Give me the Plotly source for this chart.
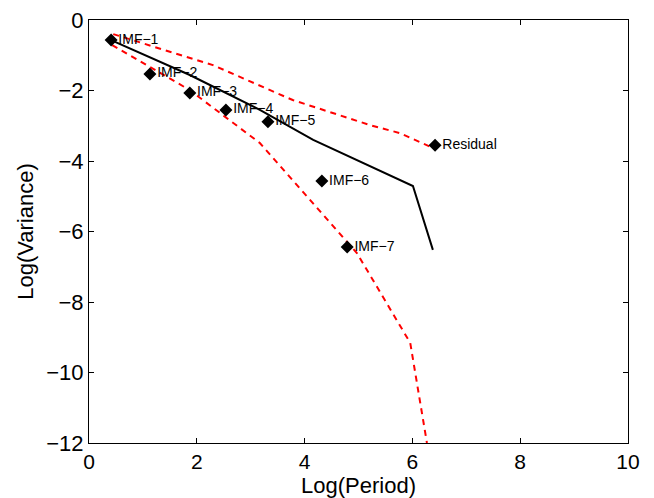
import plotly.graph_objects as go

# IMF points (log period, log variance)
imf_labels = ["IMF\u22121", "IMF\u22122", "IMF\u22123", "IMF\u22124", "IMF\u22125", "IMF\u22126", "IMF\u22127", "Residual"]
imf_x = [0.41, 1.13, 1.87, 2.54, 3.32, 4.32, 4.79, 6.42]
imf_y = [-0.57, -1.53, -2.07, -2.55, -2.89, -4.57, -6.44, -3.55]

# black reference line
line_x = [0.41, 1.87, 3.17, 4.16, 6.01, 6.38]
line_y = [-0.57, -1.56, -2.55, -3.40, -4.71, -6.52]

# upper red dashed bound
up_x = [0.45, 2.30, 3.78, 5.21, 5.77, 6.38]
up_y = [-0.40, -1.28, -2.27, -2.98, -3.21, -3.63]

# lower red dashed bound
lo_x = [0.43, 1.87, 3.17, 4.10, 4.97, 5.96, 6.27]
lo_y = [-0.71, -1.99, -3.49, -5.11, -6.61, -9.16, -12.0]

x_ticks = [0, 2, 4, 6, 8, 10]
y_ticks = [0, -2, -4, -6, -8, -10, -12]

FONT = "Liberation Sans, Arial, Helvetica"

fig = go.Figure()
fig.add_trace(go.Scatter(x=up_x, y=up_y, mode="lines",
                         line=dict(color="#ff0000", width=2, dash="6px,5px")))
fig.add_trace(go.Scatter(x=lo_x, y=lo_y, mode="lines",
                         line=dict(color="#ff0000", width=2, dash="6px,5px")))
fig.add_trace(go.Scatter(x=line_x, y=line_y, mode="lines",
                         line=dict(color="black", width=2)))
fig.add_trace(go.Scatter(x=imf_x, y=imf_y, mode="markers+text",
                         marker=dict(symbol="diamond", size=10, color="black"),
                         text=imf_labels, textposition="middle right",
                         textfont=dict(family=FONT, size=14, color="black")))

axis_common = dict(showgrid=False, zeroline=False, showline=True, linecolor="black",
                   linewidth=1, mirror="ticks", ticks="inside", ticklen=5,
                   tickcolor="black", automargin=False)

fig.update_layout(
    width=654, height=498,
    margin=dict(l=89, r=26, t=20, b=55),
    paper_bgcolor="white", plot_bgcolor="white",
    showlegend=False,
    xaxis=dict(range=[0, 10], tickvals=x_ticks,
               ticktext=[str(v) for v in x_ticks],
               ticklabelstandoff=0,
               tickfont=dict(family=FONT, size=21, color="black"),
               **axis_common),
    yaxis=dict(range=[-12, 0], tickvals=y_ticks,
               ticktext=[str(v).replace("-", "\u2212") for v in y_ticks],
               tickfont=dict(family=FONT, size=22, color="black"),
               title=dict(text="Log(Variance)", standoff=6,
                          font=dict(family=FONT, size=22, color="black")),
               **axis_common),
    annotations=[dict(text="Log(Period)", xref="paper", yref="paper", x=0.5, y=0,
                      xanchor="center", yanchor="top", yshift=-29, showarrow=False,
                      borderpad=0,
                      font=dict(family=FONT, size=22, color="black"))],
)

fig.write_html("out.html")
